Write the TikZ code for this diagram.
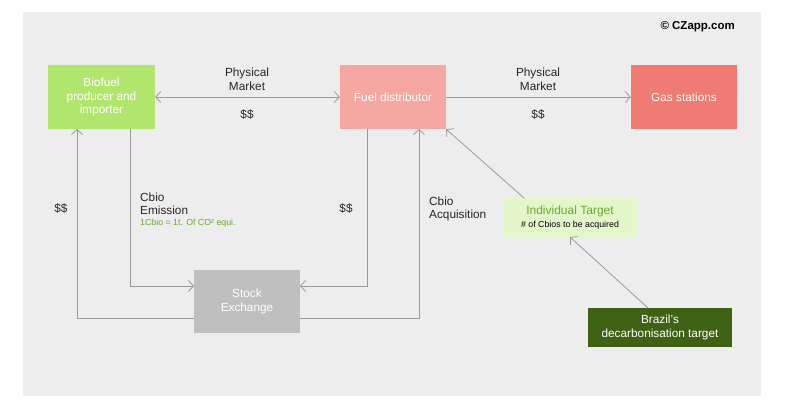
\documentclass[tikz,border=0pt]{standalone}
\usepackage{fontspec}
\setmainfont{Liberation Sans}
\usetikzlibrary{arrows.meta}
\definecolor{bg}{HTML}{EDEDED}
\definecolor{cgreen}{HTML}{B1E66E}
\definecolor{cpink}{HTML}{F5A7A2}
\definecolor{cred}{HTML}{F07A74}
\definecolor{cgray}{HTML}{BFBFBF}
\definecolor{clight}{HTML}{E4F7CB}
\definecolor{ctext}{HTML}{6AA82E}
\definecolor{cdark}{HTML}{3E6114}
\definecolor{cline}{HTML}{9A9A9A}
\definecolor{ctxt}{HTML}{262626}
\tikzset{
  box/.style={draw=none, text=white, align=center, inner sep=0pt, font=\fontsize{11.8}{13.4}\selectfont},
  conn/.style={draw=cline, line width=0.8pt, -{Straight Barb[length=5pt,width=11pt,line width=0.8pt]}},
  conn2/.style={draw=cline, line width=0.8pt, {Straight Barb[length=5pt,width=11pt,line width=0.8pt]}-{Straight Barb[length=5pt,width=11pt,line width=0.8pt]}},
  lbl/.style={text=ctxt, align=center, inner sep=0pt, font=\fontsize{11.8}{14}\selectfont},
  lbll/.style={text=ctxt, align=left, anchor=west, inner sep=0pt, font=\fontsize{11.8}{13.4}\selectfont},
}
\begin{document}
\begin{tikzpicture}[x=1pt,y=-1pt]
\useasboundingbox[fill=white] (0,0) rectangle (789,412);
\fill[bg] (23,12) rectangle (761,396);
% boxes
\node[box, fill=cgreen, minimum width=107pt, minimum height=64pt] (bio) at (101.5,97) {Biofuel\\producer and\\importer};
\node[box, fill=cpink, minimum width=106pt, minimum height=64pt] (fuel) at (393,97) {Fuel distributor};
\node[box, fill=cred, minimum width=106pt, minimum height=64pt] (gas) at (684,97) {Gas stations};
\node[box, fill=cgray, minimum width=106pt, minimum height=63pt] (stock) at (247,301.5) {Stock\\Exchange};
\node[box, fill=clight, minimum width=134pt, minimum height=39pt, text=ctext] (ind) at (570,217.5) {\fontsize{12}{12}\selectfont Individual Target\\[-1pt] {\color{black}\fontsize{8.8}{9}\selectfont \# of Cbios to be acquired}};
\node[box, fill=cdark, minimum width=144pt, minimum height=39pt] (bra) at (660,327.5) {Brazil's\\decarbonisation target};
% coordinates
\coordinate (b1) at (130,129);
\coordinate (b2) at (77,129);
\coordinate (f1) at (367,129);
\coordinate (f2) at (419,129);
\coordinate (s1) at (194,286);
\coordinate (s2) at (194,318);
\coordinate (s3) at (300,286);
\coordinate (s4) at (300,318);
\coordinate (i1) at (524,198);
\coordinate (i2) at (570,237);
\coordinate (r1) at (648,308);
% connectors
\draw[conn2] (bio.east) -- (fuel.west);
\draw[conn] (fuel.east) -- (gas.west);
\draw[conn] (b1) |- (s1);
\draw[conn] (s2) -| (b2);
\draw[conn] (f1) |- (s3);
\draw[conn] (s4) -| (f2);
\draw[conn] (i1) -- (fuel.south east);
\draw[conn] (r1) -- (i2);
% labels
\node[lbl] (pm1) at (247,79) {Physical\\Market};
\node[lbl] (d1) at (247,115) {\$\$};
\node[lbl] (pm2) at (538,79) {Physical\\Market};
\node[lbl] (d2) at (538,115) {\$\$};
\node[lbl] (d3) at (61,209) {\$\$};
\node[lbl] (d4) at (346,209) {\$\$};
\node[lbll] (ce) at (140,204) {Cbio\\Emission};
\node[anchor=west, inner sep=0pt, text=ctext, font=\fontsize{8.8}{10}\selectfont] (eq) at (140,223) {1Cbio = 1t. Of CO² equi.};
\node[lbll] (ca) at (429,209) {Cbio\\Acquisition};
\node[anchor=east, inner sep=0pt, font=\bfseries\fontsize{11.5}{12}\selectfont, text=black] (cz) at (735,27) {© CZapp.com};
\end{tikzpicture}
\end{document}
